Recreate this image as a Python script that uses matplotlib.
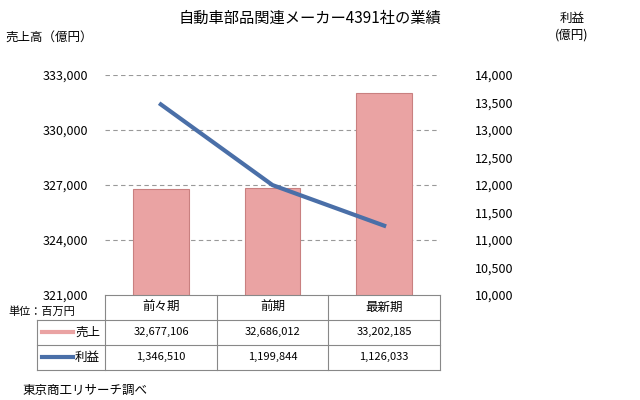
import matplotlib
matplotlib.use("Agg")
import matplotlib.pyplot as plt
from matplotlib.lines import Line2D

plt.rcParams['font.family'] = ['Noto Sans CJK JP', 'DejaVu Sans']

categories = ['前々期', '前期', '最新期']
sales_mil = [32677106, 32686012, 33202185]
profit_mil = [1346510, 1199844, 1126033]
sales_oku = [v / 100 for v in sales_mil]
profit_oku = [v / 100 for v in profit_mil]

W, H = 640, 400
fig = plt.figure(figsize=(6.4, 4.0), dpi=100)
L, R, T, B = 105, 440, 75, 295
ax = fig.add_axes([L / W, 1 - B / H, (R - L) / W, (B - T) / H])
x = list(range(len(categories)))
ax.bar(x, sales_oku, width=0.5, color='#eaa3a3', edgecolor='#c98080', linewidth=0.8, zorder=2)
ax.set_xlim(-0.5, 2.5)
ax.set_ylim(321000, 333000)
ax.set_yticks(range(321000, 333001, 3000))
ax.set_yticklabels([f'{v:,}' for v in range(321000, 333001, 3000)], fontsize=9)
ax.set_xticks([])
for y in range(324000, 333001, 3000):
    ax.axhline(y, color='#999999', linestyle=(0, (4, 3)), linewidth=0.8, zorder=1)
for s in ax.spines.values():
    s.set_visible(False)
ax.tick_params(axis='y', length=0, pad=12)

ax2 = ax.twinx()
ax2.plot(x, profit_oku, color='#4a6fa8', linewidth=3, zorder=3)
ax2.set_ylim(10000, 14000)
ax2.set_yticks(range(10000, 14001, 500))
ax2.set_yticklabels([f'{v:,}' for v in range(10000, 14001, 500)], fontsize=9)
ax2.tick_params(axis='y', length=0, pad=25)
for s in ax2.spines.values():
    s.set_visible(False)

fig.text(310 / W, 1 - 18 / H, '自動車部品関連メーカー4391社の業績', ha='center', va='center', fontsize=11)
fig.text(5 / W, 1 - 37 / H, '売上高（億円）', ha='left', va='center', fontsize=9)
fig.text(572 / W, 1 - 27 / H, '利益\n(億円)', ha='center', va='center', fontsize=9, linespacing=1.4)

# table
col_x = [L, 217, 328, R]
lc = '#888888'
def hl(y, x0, x1):
    fig.add_artist(Line2D([x0 / W, x1 / W], [1 - y / H, 1 - y / H], color=lc, linewidth=0.8))
def vl(xp, y0, y1):
    fig.add_artist(Line2D([xp / W, xp / W], [1 - y0 / H, 1 - y1 / H], color=lc, linewidth=0.8))
hl(295, L, R)
hl(320, 37, R)
hl(345, 37, R)
hl(370, 37, R)
for cx in col_x:
    vl(cx, 295, 370)
vl(37, 320, 370)
fig.text(8 / W, 1 - 312 / H, '単位：百万円', fontsize=8, va='center')
for i, c in enumerate(categories):
    cxm = (col_x[i] + col_x[i + 1]) / 2
    fig.text(cxm / W, 1 - 307 / H, c, ha='center', va='center', fontsize=9)
    fig.text(cxm / W, 1 - 332 / H, f'{sales_mil[i]:,}', ha='center', va='center', fontsize=8)
    fig.text(cxm / W, 1 - 357 / H, f'{profit_mil[i]:,}', ha='center', va='center', fontsize=8)
fig.add_artist(Line2D([42 / W, 73 / W], [1 - 332 / H] * 2, color='#eaa3a3', linewidth=3))
fig.add_artist(Line2D([42 / W, 73 / W], [1 - 357 / H] * 2, color='#4a6fa8', linewidth=3))
fig.text(100 / W, 1 - 332 / H, '売上', ha='right', va='center', fontsize=9)
fig.text(100 / W, 1 - 357 / H, '利益', ha='right', va='center', fontsize=9)
fig.text(22 / W, 1 - 390 / H, '東京商工リサーチ調べ', ha='left', va='center', fontsize=9)

fig.savefig('out.png', dpi=100)
